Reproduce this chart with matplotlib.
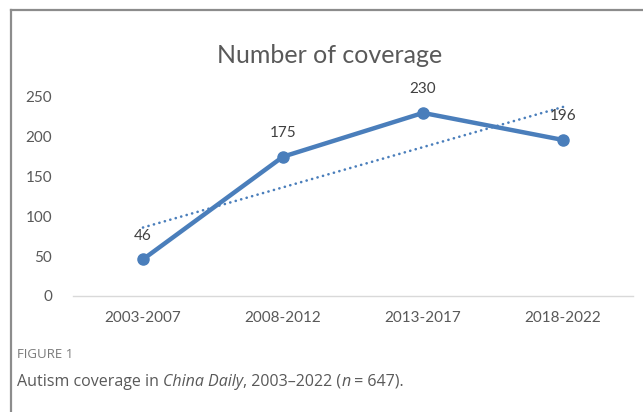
import matplotlib.pyplot as plt
from matplotlib.lines import Line2D
import numpy as np

# data
periods = ["2003-2007", "2008-2012", "2013-2017", "2018-2022"]
coverage = [46, 175, 230, 196]
yticks = [0, 50, 100, 150, 200, 250]

blue = "#4a7ebb"
grey_txt = "#595959"
cap_font = ['Open Sans', 'DejaVu Sans']

plt.rcParams['font.family'] = ['Lato', 'DejaVu Sans']

fig = plt.figure(figsize=(6.43, 4.12), dpi=100)
ax = fig.add_axes([0.1135, 0.2816, 0.871, 0.483])

x = np.arange(len(periods))
ax.plot(x, coverage, color=blue, lw=3.2, marker="o", ms=8,
        solid_capstyle="round", zorder=3)

# linear trendline (dotted)
k, b = np.polyfit(x, coverage, 1)
ax.plot(x, k * x + b, color=blue, lw=1.9, ls=(0, (0.05, 2.1)),
        dash_capstyle="round", zorder=2)

for xi, v in zip(x, coverage):
    ax.annotate(str(v), (xi, v), xytext=(0, 12), textcoords="offset points",
                ha="center", va="bottom", fontsize=11, color="#404040",
                annotation_clip=False)

ax.set_xlim(-0.5, len(periods) - 0.5)
ax.set_ylim(0, 250)
ax.set_xticks(x)
ax.set_xticklabels(periods)
ax.set_yticks(yticks)
ax.tick_params(length=0, labelsize=11, labelcolor=grey_txt)
ax.tick_params(axis="y", pad=15)
ax.tick_params(axis="x", pad=11)
for s in ["top", "right", "left"]:
    ax.spines[s].set_visible(False)
ax.spines["bottom"].set_color("#d9d9d9")
ax.spines["bottom"].set_linewidth(1)

fig.text(0.513, 0.866, "Number of coverage", ha="center", va="center",
         fontsize=18, color=grey_txt)

# box frame (left and top edges only, right side is cut off)
fig.add_artist(Line2D([11 / 643, 11 / 643], [0, 1 - 10 / 412],
                      transform=fig.transFigure, color="#8c8c8c", lw=1.6))
fig.add_artist(Line2D([11 / 643, 1], [1 - 10 / 412, 1 - 10 / 412],
                      transform=fig.transFigure, color="#8c8c8c", lw=1.6))

# caption
fig.text(17 / 643, 1 - 355 / 412, "FIGURE 1", fontsize=9.5, color="#7a7a7a",
         va="center", family=cap_font)
parts = [("Autism coverage in ", "normal"), ("China Daily", "italic"),
         (", 2003\u20132022 (", "normal"), ("n", "italic"), (" = 647).", "normal")]
prev = fig.text(17 / 643, 1 - 390 / 412, parts[0][0], fontsize=11.5,
                color=grey_txt, va="bottom", family=cap_font)
for txt, st in parts[1:]:
    prev = fig.add_artist(plt.Annotation(txt, xy=(1, 0), xycoords=prev,
                                         va="bottom", ha="left", fontsize=11.5,
                                         color=grey_txt, style=st,
                                         family=cap_font))

fig.savefig("out.png", dpi=100)
